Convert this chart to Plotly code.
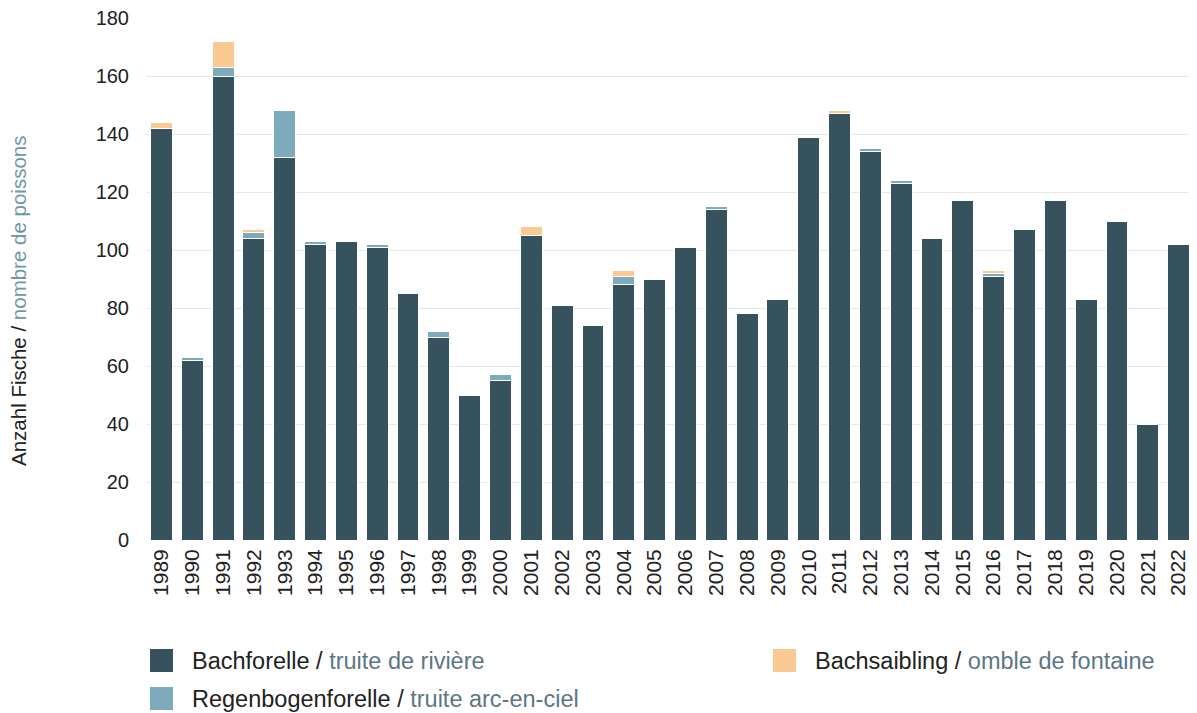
import plotly.graph_objects as go

years = [str(y) for y in range(1989, 2023)]
bachforelle = [142, 62, 160, 104, 132, 102, 103, 101, 85, 70, 50, 55, 105, 81, 74, 88, 90,
               101, 114, 78, 83, 139, 147, 134, 123, 104, 117, 91, 107, 117, 83, 110, 40, 102]
regenbogen = [0, 1, 3, 2, 16, 1, 0, 1, 0, 2, 0, 2, 0, 0, 0, 3, 0,
              0, 1, 0, 0, 0, 0, 1, 1, 0, 0, 1, 0, 0, 0, 0, 0, 0]
bachsaibling = [2, 0, 9, 1, 0, 0, 0, 0, 0, 0, 0, 0, 3, 0, 0, 2, 0,
                0, 0, 0, 0, 0, 1, 0, 0, 0, 0, 1, 0, 0, 0, 0, 0, 0]
y_ticks = [0, 20, 40, 60, 80, 100, 120, 140, 160, 180]

FONT = "Liberation Sans"
SUB = "#5d7684"
OFF = 8  # default page body margin
W, H = 1197 - OFF, 713 - OFF
ML, MR, MT, MB = 146 - OFF, 3, 18 - OFF, 173
PW, PH = W - ML - MR, H - MT - MB

def px(xp):
    return (xp - OFF - ML) / PW

def py(yp):
    return (H - MB - (yp - OFF)) / PH

series = [
    ("Bachforelle", "truite de rivière", bachforelle, "#36525c"),
    ("Regenbogenforelle", "truite arc-en-ciel", regenbogen, "#7eabbb"),
    ("Bachsaibling", "omble de fontaine", bachsaibling, "#fac994"),
]

fig = go.Figure()
for de, fr, vals, col in series:
    fig.add_trace(go.Bar(x=years, y=vals, name=f"{de} / {fr}",
                         marker=dict(color=col, line=dict(color="white", width=1)),
                         showlegend=False))

# manual legend (large square swatches, two columns)
legend_pos = [(150, 649), (150, 687), (773, 649)]
shapes, annots = [], []
for (de, fr, vals, col), (lx, ly) in zip(series, legend_pos):
    shapes.append(dict(type="rect", xref="paper", yref="paper",
                       x0=px(lx), x1=px(lx + 23), y0=py(ly + 23), y1=py(ly),
                       fillcolor=col, line=dict(width=0)))
    annots.append(dict(xref="paper", yref="paper", x=px(lx + 40), y=py(ly + 12),
                       xanchor="left", yanchor="middle", showarrow=False,
                       text=f"{de} / <span style='color:{SUB}'>{fr}</span>",
                       font=dict(size=23.5, color="#222222", family=FONT)))

annots.append(dict(xref="paper", yref="paper", x=px(18), y=py(301),
                   xanchor="center", yanchor="middle", showarrow=False, textangle=-90,
                   text="Anzahl Fische / <span style='color:#6f97a4'>nombre de poissons</span>",
                   font=dict(size=20.5, color="#222222", family=FONT)))

fig.update_layout(
    width=W, height=H,
    barmode="stack", bargap=0.29,
    plot_bgcolor="white", paper_bgcolor="white",
    font=dict(family=FONT, color="#222222", size=20),
    margin=dict(l=ML, r=MR, t=MT, b=MB),
    showlegend=False,
    xaxis=dict(tickangle=-90, tickfont=dict(size=21, color="#222222"),
               showgrid=False, ticks="", showline=False, automargin=False,
               ticklabelstandoff=4),
    yaxis=dict(range=[0, 180.05], tickvals=y_ticks, tickfont=dict(size=20, color="#222222"),
               gridcolor="#e8e8e8", gridwidth=1, zeroline=False, ticks="",
               automargin=False, ticklabelstandoff=16, ticklabeloverflow="allow"),
    shapes=shapes,
    annotations=annots,
)

fig.write_html("out.html")
